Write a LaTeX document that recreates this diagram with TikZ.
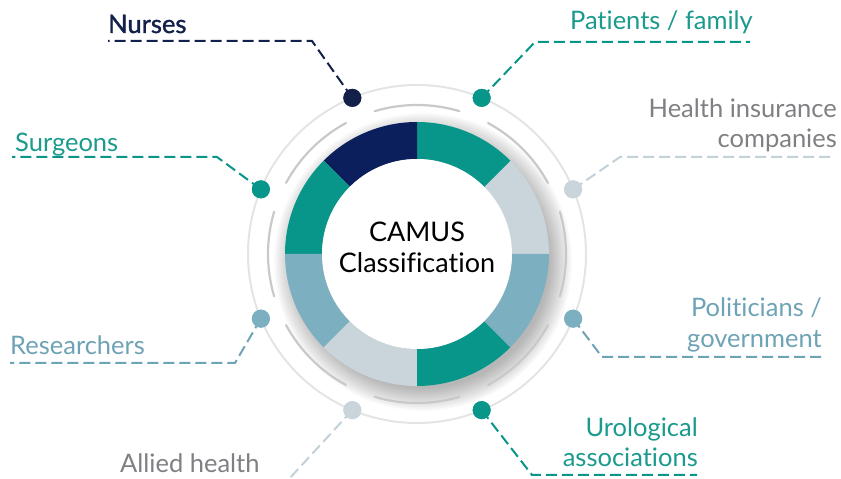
\documentclass[tikz,border=0pt]{standalone}
\usepackage{fontspec}
\setmainfont[Ligatures=NoCommon]{Lato}
\newfontfamily\medfont[FakeBold=1.3]{Lato}
\begin{document}
\definecolor{navy}{HTML}{0B1F5C}
\definecolor{navytext}{HTML}{13204A}
\definecolor{teal}{HTML}{09968A}
\definecolor{tealtext}{HTML}{1B9A8D}
\definecolor{paleblue}{HTML}{C9D5DB}
\definecolor{paleline}{HTML}{C3D1D8}
\definecolor{midblue}{HTML}{7CB0C1}
\definecolor{midtext}{HTML}{6EA3B5}
\definecolor{greytext}{HTML}{7F8083}
\definecolor{ringouter}{HTML}{E4E4E4}
\definecolor{ringinner}{HTML}{C9C9C9}
\begin{tikzpicture}[x=1pt,y=1pt,
  lbl/.style={inner sep=0pt, font=\fontsize{25.5}{30}\selectfont},
  leader/.style={dashed, dash pattern=on 11pt off 5pt, line width=2pt},
  dot/.style={circle, inner sep=0pt, minimum size=18pt}
]
\useasboundingbox (0,0) rectangle (841,479);
\coordinate (C) at (417,225);

% soft drop shadow under the ring
\foreach \i in {1,...,14}
  \fill[black, opacity=0.025] ([shift={(6,-8)}]C) circle ({125+\i*1.7});

% decorative rings
\draw[ringouter, line width=2pt] (C) circle (169);
\foreach \k in {0,...,7}
  \draw[ringinner, line width=2.2pt, line cap=round]
    ([shift={({22.5+45*\k+6}:149)}]C) arc[start angle={22.5+45*\k+6}, end angle={67.5+45*\k-6}, radius=149];

% donut segments, counter-clockwise from 0 degrees
\foreach \a/\col in {0/paleblue, 45/teal, 90/navy, 135/teal, 180/midblue, 225/paleblue, 270/teal, 315/midblue}
  \fill[\col] ([shift={(\a:132)}]C) arc[start angle=\a, end angle=\a+45, radius=132]
    -- ([shift={(\a+45:95)}]C) arc[start angle=\a+45, end angle=\a, radius=95] -- cycle;
\fill[white] (C) circle (95);

\node[lbl, anchor=base, font=\fontsize{27}{32}\selectfont] (t1) at (417,237) {CAMUS};
\node[lbl, anchor=base, font=\fontsize{27}{32}\selectfont] (t2) at (417,206) {Classification};

% dots on the outer ring
\node[dot, fill=navytext] (dN) at ([shift={(112.5:169)}]C) {};
\node[dot, fill=teal] (dP) at ([shift={(67.5:169)}]C) {};
\node[dot, fill=paleblue] (dH) at ([shift={(22.5:169)}]C) {};
\node[dot, fill=midblue] (dG) at ([shift={(-22.5:169)}]C) {};
\node[dot, fill=teal] (dU) at ([shift={(-67.5:169)}]C) {};
\node[dot, fill=paleblue] (dA) at ([shift={(-112.5:169)}]C) {};
\node[dot, fill=midblue] (dR) at ([shift={(-157.5:169)}]C) {};
\node[dot, fill=teal] (dS) at ([shift={(157.5:169)}]C) {};

% leader line end points
\coordinate (eN) at (312,438); \coordinate (fN) at (108,438);
\coordinate (eP) at (535,437); \coordinate (fP) at (750,437);
\coordinate (eH) at (620,322); \coordinate (fH) at (835,322);
\coordinate (eG) at (602,122); \coordinate (fG) at (822,122);
\coordinate (eU) at (532,4);   \coordinate (fU) at (697,4);
\coordinate (fA) at (289,0);
\coordinate (eR) at (235,116); \coordinate (fR) at (10,116);
\coordinate (eS) at (217,322); \coordinate (fS) at (12,322);

\draw[leader, navytext] (dN.center) -- (eN) -- (fN);
\draw[leader, teal] (dP.center) -- (eP) -- (fP);
\draw[leader, paleline] (dH.center) -- (eH) -- (fH);
\draw[leader, midtext] (dG.center) -- (eG) -- (fG);
\draw[leader, teal] (dU.center) -- (eU) -- (fU);
\draw[leader, paleline] (dA.center) -- (fA);
\draw[leader, midtext] (dR.center) -- (eR) -- (fR);
\draw[leader, teal] (dS.center) -- (eS) -- (fS);

% redraw dots above the leader ends
\foreach \d/\c in {dN/navytext, dP/teal, dH/paleblue, dG/midblue, dU/teal, dA/paleblue, dR/midblue, dS/teal}
  \fill[\c] (\d) circle (9);

% labels
\node[lbl, anchor=base west, text=navytext, font=\medfont\fontsize{25.5}{30}\selectfont] (lN) at (108,446) {Nurses};
\node[lbl, anchor=base east, text=tealtext] (lP) at (753,449) {Patients / family};
\node[lbl, anchor=base east, text=greytext] (lH1) at (837,361) {Health insurance};
\node[lbl, anchor=base east, text=greytext] (lH2) at (837,331) {companies};
\node[lbl, anchor=base east, text=midtext] (lG1) at (822,162) {Politicians /};
\node[lbl, anchor=base east, text=midtext] (lG2) at (822,131) {government};
\node[lbl, anchor=base east, text=tealtext] (lU1) at (698,42) {Urological};
\node[lbl, anchor=base east, text=tealtext] (lU2) at (698,12) {associations};
\node[lbl, anchor=base west, text=greytext] (lA) at (120,6) {Allied health};
\node[lbl, anchor=base west, text=midtext] (lR) at (10,124) {Researchers};
\node[lbl, anchor=base west, text=tealtext] (lS) at (15,327) {Surgeons};
\end{tikzpicture}
\end{document}
